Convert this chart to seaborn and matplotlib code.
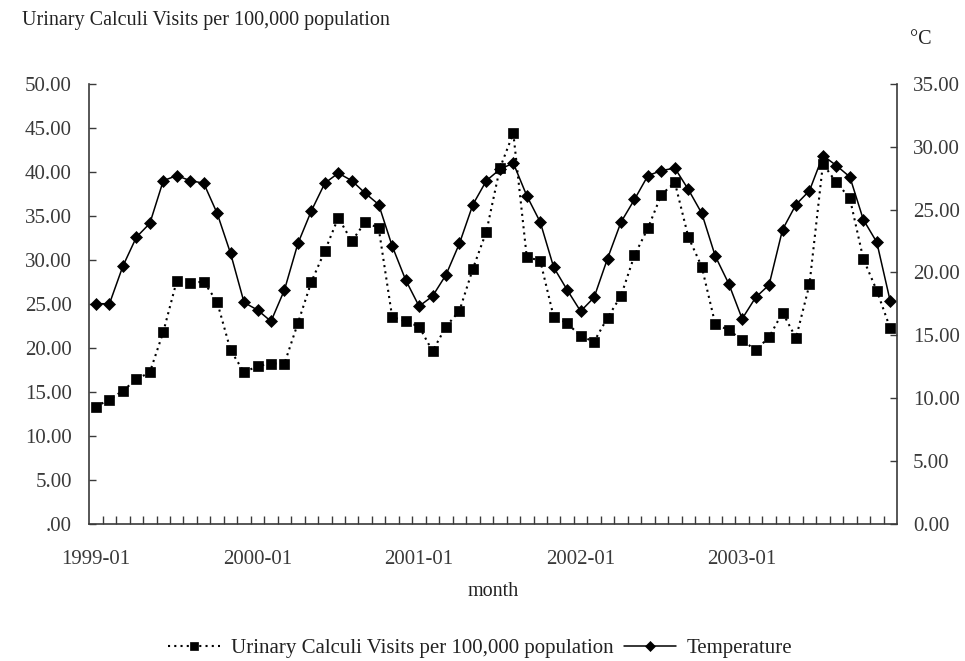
# Urinary calculi visits vs. temperature, monthly 1999-2003
import numpy as np
import pandas as pd
import matplotlib.pyplot as plt
import seaborn as sns
from matplotlib.ticker import FixedLocator, FuncFormatter

# Data
months = [f"{y}-{m:02d}" for y in range(1999, 2004) for m in range(1, 13)]
visits = [13.3, 14.1, 15.1, 16.4, 17.2, 21.8, 27.6, 27.4, 27.5, 25.2, 19.7, 17.2,
          17.9, 18.2, 18.2, 22.8, 27.5, 31.0, 34.8, 32.1, 34.3, 33.6, 23.5, 23.0,
          22.4, 19.6, 22.4, 24.2, 29.0, 33.2, 40.4, 44.4, 30.3, 29.9, 23.5, 22.8,
          21.3, 20.7, 23.4, 25.9, 30.5, 33.6, 37.4, 38.8, 32.6, 29.2, 22.7, 22.0,
          20.9, 19.7, 21.2, 24.0, 21.1, 27.2, 40.9, 38.8, 37.0, 30.1, 26.5, 22.2]
temperature = [17.5, 17.5, 20.5, 22.8, 23.9, 27.3, 27.7, 27.3, 27.1, 24.7, 21.5, 17.6,
               17.0, 16.1, 18.6, 22.3, 24.9, 27.1, 27.9, 27.3, 26.3, 25.4, 22.1, 19.4,
               17.3, 18.1, 19.8, 22.3, 25.4, 27.3, 28.2, 28.7, 26.1, 24.0, 20.4, 18.6,
               16.9, 18.0, 21.1, 24.0, 25.8, 27.7, 28.1, 28.3, 26.6, 24.7, 21.3, 19.1,
               16.3, 18.0, 19.0, 23.4, 25.4, 26.5, 29.3, 28.5, 27.6, 24.2, 22.4, 17.7]
year_labels = ["1999-01", "2000-01", "2001-01", "2002-01", "2003-01"]
visits_label = "Urinary Calculi Visits per 100,000 population"

df = pd.DataFrame({"month": months, "visits": visits, "temperature": temperature})
df["pos"] = np.arange(len(df))

sns.set_style("ticks")
plt.rcParams["font.family"] = ["Liberation Serif", "DejaVu Serif"]
plt.rcParams["text.color"] = "#222222"
plt.rcParams["xtick.color"] = "#3a3a3a"
plt.rcParams["ytick.color"] = "#3a3a3a"

fig = plt.figure(figsize=(9.65, 6.61), dpi=100)
ax = fig.add_axes([0.0925, 0.208, 0.837, 0.665])
ax2 = ax.twinx()

sns.lineplot(data=df, x="pos", y="visits", ax=ax, color="black",
             linestyle=(0, (1, 2)), linewidth=1.5, marker="s", markersize=7,
             markeredgecolor="black", markeredgewidth=0.5, label=visits_label)
sns.lineplot(data=df, x="pos", y="temperature", ax=ax2, color="black",
             linewidth=1.1, marker="D", markersize=6,
             markeredgecolor="black", markeredgewidth=0.5, label="Temperature")

# axes ranges and ticks
ax.set_xlim(-0.5, len(df) - 0.5)
ax.set_ylim(0, 50)
ax2.set_ylim(0, 35)
ax.set_yticks(np.arange(0, 51, 5))
ax2.set_yticks(np.arange(0, 36, 5))
ax.yaxis.set_major_formatter(FuncFormatter(lambda v, p: ".00" if v == 0 else f"{v:.2f}"))
ax2.yaxis.set_major_formatter(FuncFormatter(lambda v, p: f"{v:.2f}"))

label_pos = [months.index(m) for m in year_labels]
ax.set_xticks(label_pos)
ax.set_xticklabels(year_labels)
ax.xaxis.set_minor_locator(FixedLocator(df["pos"].values[:-1] + 0.5))
ax.tick_params(axis="x", which="major", bottom=True, length=0, pad=19, labelsize=15)
ax.tick_params(axis="x", which="minor", bottom=True, direction="in", length=6, width=1)
ax.tick_params(axis="y", which="major", left=True, direction="in", length=5, width=1,
               pad=12.5, labelsize=15)
ax2.tick_params(axis="y", which="major", right=True, direction="in", length=5, width=1,
                pad=11.5, labelsize=15)

for a in (ax, ax2):
    a.set_xlabel("")
    a.set_ylabel("")
    a.spines["top"].set_visible(False)
    for s in a.spines.values():
        s.set_color("#3a3a3a")
        s.set_linewidth(1.2)
ax.spines["right"].set_visible(False)
ax2.spines["left"].set_visible(False)
ax2.spines["bottom"].set_visible(False)
ax2.spines["right"].set_visible(True)

# texts
fig.text(22 / 965, 1 - 21 / 661, visits_label, fontsize=14.5, va="center", ha="left")
fig.text(921 / 965, 1 - 40 / 661, "°C", fontsize=14.5, va="center", ha="center")
fig.text(493 / 965, 1 - 592 / 661, "month", fontsize=14.5, va="center", ha="center")

# combined legend
h1, l1 = ax.get_legend_handles_labels()
h2, l2 = ax2.get_legend_handles_labels()
ax.get_legend().remove()
ax2.get_legend().remove()
fig.legend(h1 + h2, l1 + l2, loc="center", bbox_to_anchor=(480 / 965, 1 - 648 / 661),
           ncol=2, frameon=False, fontsize=15, handlelength=2.5,
           handletextpad=0.5, columnspacing=0.5, markerscale=0.8)

fig.savefig("out.png", dpi=100)
